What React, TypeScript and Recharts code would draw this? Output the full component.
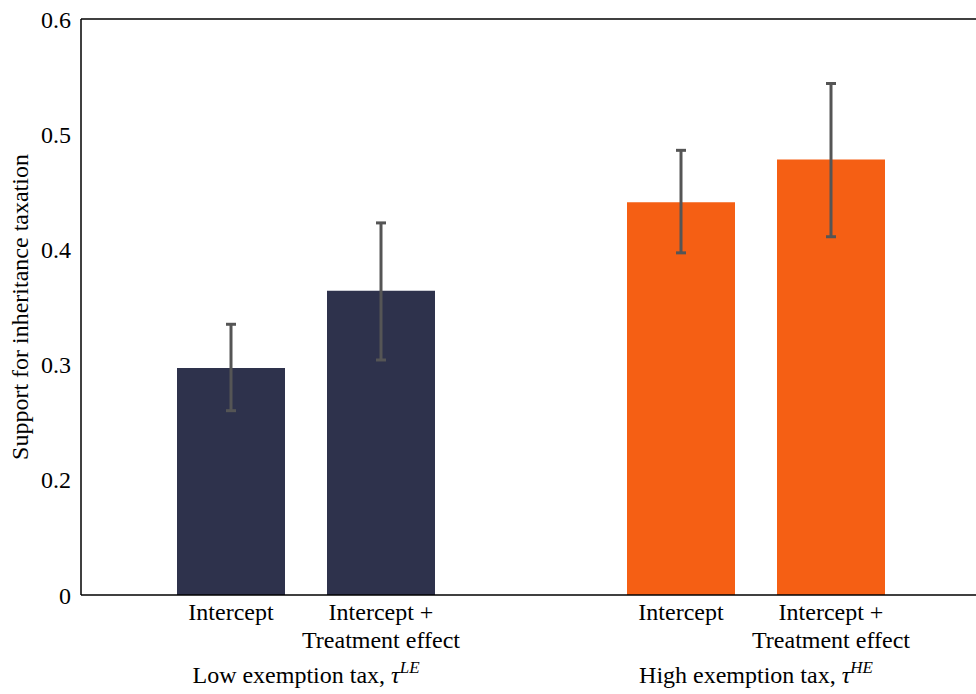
import React from "react";
import {
  BarChart,
  Bar,
  Cell,
  XAxis,
  YAxis,
  ErrorBar,
  ReferenceLine,
  Label,
} from "recharts";

const categories = [
  "Intercept",
  "Intercept +\nTreatment effect",
  "",
  "Intercept",
  "Intercept +\nTreatment effect",
];
const support = [0.297, 0.364, null, 0.441, 0.478];
const ciLow = [0.26, 0.304, null, 0.397, 0.411];
const ciHigh = [0.335, 0.423, null, 0.486, 0.544];
const barColors = ["#2e324c", "#2e324c", "#ffffff", "#f55f14", "#f55f14"];
const groupNames = ["Low exemption tax, ", "High exemption tax, "];
const groupSups = ["LE", "HE"];
const yTicks = [0.1, 0.2, 0.3, 0.4, 0.5, 0.6];
const yTitle = "Support for inheritance taxation";

const FONT = "Liberation Serif";

const data = categories.map((name, i) => ({
  id: `c${i}`,
  name,
  value: support[i],
  err:
    support[i] == null
      ? undefined
      : [support[i]! - ciLow[i]!, ciHigh[i]! - support[i]!],
}));

function XTick(props: any) {
  const { x, index } = props;
  const y = 595;
  const lines = categories[index].split("\n");
  const groupIdx = index === 0 ? 0 : index === 3 ? 1 : -1;
  return (
    <g>
      {lines.map((l, k) => (
        <text
          key={k}
          x={x}
          y={y + 25 + k * 28}
          textAnchor="middle"
          style={{ fontFamily: FONT, fontSize: 24 }}
          fill="#000"
        >
          {l}
        </text>
      ))}
      {groupIdx >= 0 && (
        <text
          x={x + 75}
          y={y + 88}
          textAnchor="middle"
          style={{ fontFamily: FONT, fontSize: 24 }}
          fill="#000"
        >
          {groupNames[groupIdx]}
          <tspan fontStyle="italic">τ</tspan>
          <tspan fontStyle="italic" style={{ fontSize: 17 }} dy={-10}>
            {groupSups[groupIdx]}
          </tspan>
        </text>
      )}
    </g>
  );
}

function YTitle(props: any) {
  const vb = props.viewBox;
  const cx = 28;
  const cy = vb.y + vb.height / 2;
  return (
    <text
      x={cx}
      y={cy}
      transform={`rotate(-90, ${cx}, ${cy})`}
      textAnchor="middle"
      style={{ fontFamily: FONT, fontSize: 24 }}
      fill="#000"
    >
      {yTitle}
    </text>
  );
}

export default function App() {
  return (
    <div
      style={{
        position: "absolute",
        left: 0,
        top: 0,
        background: "#fff",
        fontFamily: FONT,
      }}
    >
      <BarChart
        width={976}
        height={694}
        data={data}
        margin={{ top: 19, right: 0, bottom: 0, left: 0 }}
        style={{ fontFamily: FONT }}
      >
        <XAxis
          dataKey="id"
          height={99}
          interval={0}
          padding={{ left: 75, right: 70 }}
          tickLine={false}
          axisLine={{ stroke: "#000", strokeWidth: 1.5 }}
          tick={<XTick />}
        />
        <YAxis
          width={81}
          domain={[0.1, 0.6]}
          ticks={yTicks}
          tickLine={false}
          tickSize={0}
          tickMargin={10}
          axisLine={{ stroke: "#000", strokeWidth: 1.5 }}
          tickFormatter={(v: number) => (v === 0.1 ? "0" : String(v))}
          tick={{ fill: "#000", fontSize: 24, fontFamily: FONT }}
        >
          <Label content={<YTitle />} />
        </YAxis>
        <ReferenceLine y={0.6} stroke="#000" strokeWidth={1.5} />
        <Bar dataKey="value" barSize={108} isAnimationActive={false}>
          {data.map((d, i) => (
            <Cell key={d.id} fill={barColors[i]} />
          ))}
          <ErrorBar
            dataKey="err"
            direction="y"
            width={5}
            stroke="#555"
            strokeWidth={3}
          />
        </Bar>
      </BarChart>
    </div>
  );
}
